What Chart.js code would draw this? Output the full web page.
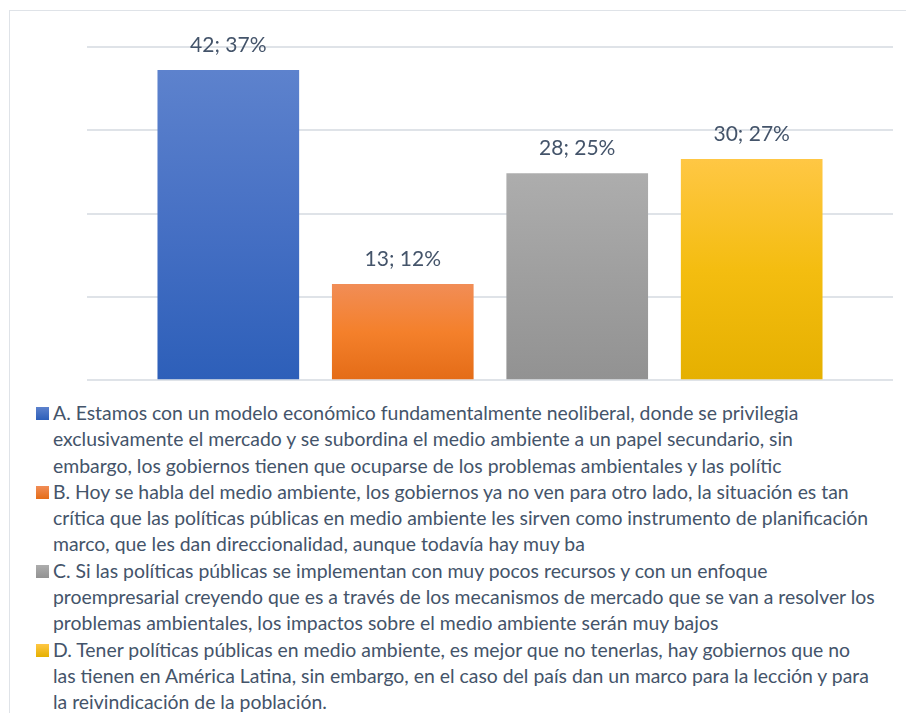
<!DOCTYPE html>
<html>
<head>
<meta charset="utf-8">
<script src="https://cdn.jsdelivr.net/npm/chart.js@4.4.1/dist/chart.umd.min.js"></script>
<style>
    body { margin: 0; background: #fff; width: 906px; height: 713px; overflow: hidden; position: relative; font-family: Lato, "Noto Sans", sans-serif; }
    .frame { position: absolute; left: 9px; top: 10px; width: 920px; height: 720px; border-left: 1px solid #dfe3e8; border-top: 1px solid #dfe3e8; }
    .chartBox { position: absolute; left: 0; top: 0; width: 906px; height: 392px; }
    .myLegend { position: absolute; left: 36px; top: 400px; color: #44546a; font-size: 19.4px; line-height: 26.3px; }
    .legendItem { display: flex; align-items: flex-start; }
    .legendBox { width: 13px; height: 13px; margin-top: 7px; margin-right: 4px; flex: none; }
    .legendLine { white-space: nowrap; }
</style>
</head>
<body>
<div class="frame"></div>
<div class="chartBox"><canvas id="myChart" width="906" height="392"></canvas></div>
<div class="myLegend" id="myLegend"></div>
<script>
// legend text, one array per option, already broken in lines like the original
const legendLines = [
    ["A. Estamos con un modelo económico fundamentalmente neoliberal, donde se privilegia",
     "exclusivamente el mercado y se subordina el medio ambiente a un papel secundario, sin",
     "embargo, los gobiernos tienen que ocuparse de los problemas ambientales y las polític"],
    ["B. Hoy se habla del medio ambiente, los gobiernos ya no ven para otro lado, la situación es tan",
     "crítica que las políticas públicas en medio ambiente les sirven como instrumento de planificación",
     "marco, que les dan direccionalidad, aunque todavía hay muy ba"],
    ["C. Si las políticas públicas se implementan con muy pocos recursos y con un enfoque",
     "proempresarial creyendo que es a través de los mecanismos de mercado que se van a resolver los",
     "problemas ambientales, los impactos sobre el medio ambiente serán muy bajos"],
    ["D. Tener políticas públicas en medio ambiente, es mejor que no tenerlas, hay gobiernos que no",
     "las tienen en América Latina, sin embargo, en el caso del país dan un marco para la lección y para",
     "la reivindicación de la población."]
];
const categories = legendLines.map(l => l.join(" "));
const counts = [42, 13, 28, 30];
const percents = [37.2, 11.5, 24.8, 26.5];
const pctLabels = ["37%", "12%", "25%", "27%"];
const yTicks = [0, 10, 20, 30, 40];

const topColors = ["#5d82cd", "#f18d56", "#adadad", "#ffc744"];
const midColors = ["#4670c4", "#f4802b", "#9f9f9f", "#f4bd10"];
const bottomColors = ["#2d5fb9", "#e46c17", "#929292", "#e5b000"];

function barGradient(context) {
    const chart = context.chart;
    const i = context.dataIndex;
    if (!chart.chartArea || i === undefined) return topColors[i] || "#888";
    const y = chart.scales.y;
    const top = y.getPixelForValue(percents[i]);
    const bottom = y.getPixelForValue(0);
    const g = chart.ctx.createLinearGradient(0, top, 0, bottom);
    g.addColorStop(0, topColors[i]);
    g.addColorStop(0.5, midColors[i]);
    g.addColorStop(1, bottomColors[i]);
    return g;
}

// draws "42; 37%" above each bar
const valueLabels = {
    id: "valueLabels",
    afterDatasetsDraw(chart) {
        const ctx = chart.ctx;
        const meta = chart.getDatasetMeta(0);
        ctx.save();
        ctx.font = "21px Lato, 'Noto Sans', sans-serif";
        ctx.fillStyle = "#44546a";
        ctx.textAlign = "center";
        ctx.textBaseline = "middle";
        meta.data.forEach((bar, i) => {
            ctx.fillText(counts[i] + "; " + pctLabels[i], bar.x, bar.y - 25);
        });
        ctx.restore();
    }
};

const myChart = new Chart(document.getElementById("myChart"), {
    type: "bar",
    data: {
        labels: categories,
        datasets: [{
            data: percents.map((p, i) => ({ x: i, y: p })),
            backgroundColor: barGradient,
            borderWidth: 0,
            barThickness: 141
        }]
    },
    options: {
        responsive: false,
        animation: false,
        devicePixelRatio: 1,
        layout: { padding: { left: 87, right: 13, top: 47, bottom: 12 } },
        plugins: { legend: { display: false }, tooltip: { enabled: false } },
        scales: {
            x: {
                type: "linear",
                min: -0.81,
                max: 3.81,
                offset: false,
                display: false
            },
            y: {
                min: 0,
                max: 40,
                afterBuildTicks(axis) { axis.ticks = yTicks.map(v => ({ value: v })); },
                ticks: { display: false },
                border: { display: false },
                grid: { color: "#dfe3e8", lineWidth: 2, drawTicks: false }
            }
        }
    },
    plugins: [valueLabels]
});

// html legend so the long texts can wrap
const legendEl = document.getElementById("myLegend");
legendLines.forEach((lines, i) => {
    let html = `<div class="legendItem"><div class="legendBox" style="background: linear-gradient(${topColors[i]}, ${bottomColors[i]});"></div><div>`;
    lines.forEach(line => { html += `<div class="legendLine">${line}</div>`; });
    html += `</div></div>`;
    legendEl.innerHTML += html;
});
</script>
</body>
</html>
